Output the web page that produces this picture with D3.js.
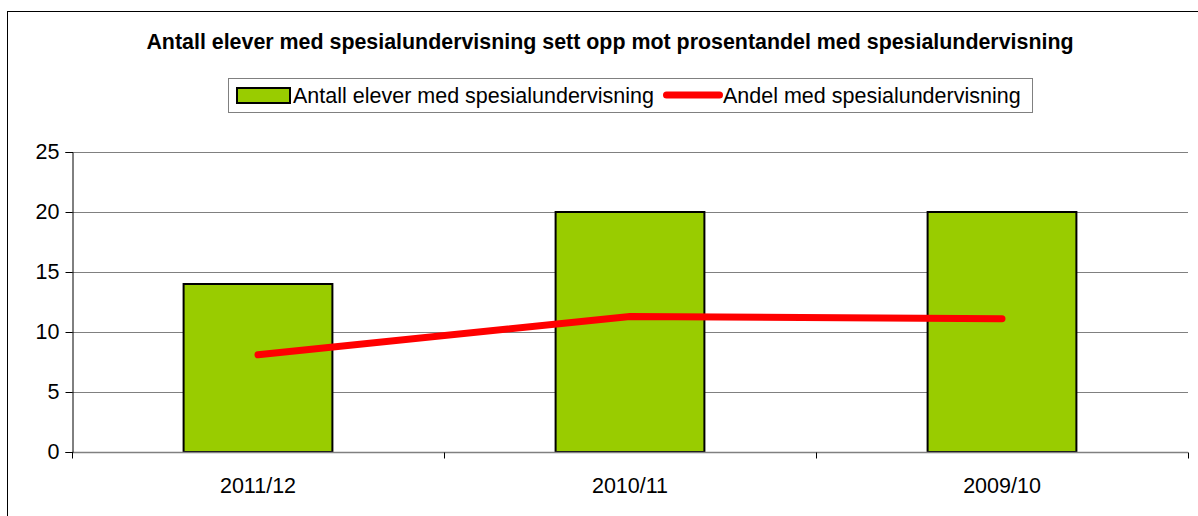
<!DOCTYPE html>
<html>
<head>
<meta charset="utf-8">
<script src="https://cdn.jsdelivr.net/npm/d3@7"></script>
<style>
  html, body { margin: 0; padding: 0; background: #fff; }
  svg { display: block; font-family: "Liberation Sans", Arial, sans-serif; }
</style>
</head>
<body>
<svg id="chart" width="1198" height="516"></svg>
<script>
const categories = ["2011/12", "2010/11", "2009/10"];
const antallElever = [14, 20, 20];
const andelProsent = [8.1, 11.3, 11.1];
const yTicks = [0, 5, 10, 15, 20, 25];
const titleText = "Antall elever med spesialundervisning sett opp mot prosentandel med spesialundervisning";
const legendLabels = ["Antall elever med spesialundervisning", "Andel med spesialundervisning"];

const svg = d3.select("#chart");
const W = 1198, H = 516;
const plot = { left: 72, right: 1188, top: 152, bottom: 452 };

// outer border
svg.append("rect")
  .attr("x", 7.5).attr("y", 11.5)
  .attr("width", W + 10).attr("height", H + 10)
  .attr("fill", "#fff").attr("stroke", "#000").attr("stroke-width", 1);

// title
svg.append("text")
  .attr("x", 610).attr("y", 49)
  .attr("text-anchor", "middle")
  .attr("font-size", "21.4px").attr("font-weight", "bold")
  .attr("fill", "#000")
  .text(titleText);

const x = d3.scaleBand().domain(categories).range([plot.left, plot.right]).paddingInner(0).paddingOuter(0);
const y = d3.scaleLinear().domain([0, 25]).range([plot.bottom, plot.top]);

// gridlines
svg.append("g").selectAll("line").data(yTicks.filter(d => d > 0)).join("line")
  .attr("x1", plot.left).attr("x2", plot.right)
  .attr("y1", d => Math.round(y(d)) + 0.5).attr("y2", d => Math.round(y(d)) + 0.5)
  .attr("stroke", "#808080").attr("stroke-width", 1);

// bars
const barW = x.bandwidth() * 0.4;
svg.append("g").selectAll("rect").data(categories).join("rect")
  .attr("x", (d) => x(d) + (x.bandwidth() - barW) / 2)
  .attr("y", (d, i) => y(antallElever[i]))
  .attr("width", barW)
  .attr("height", (d, i) => y(0) - y(antallElever[i]))
  .attr("fill", "#99CC00")
  .attr("stroke", "#000").attr("stroke-width", 2);

// x axis
const xAxisG = svg.append("g").attr("transform", `translate(0,${Math.round(y(0)) + 0.5})`);
xAxisG.append("line").attr("x1", plot.left).attr("x2", plot.right)
  .attr("stroke", "#808080").attr("stroke-width", 1.5);
const boundaries = categories.map(c => x(c)).concat([plot.right]);
xAxisG.selectAll("line.tick").data(boundaries).join("line").attr("class", "tick")
  .attr("x1", d => Math.round(d) + 0.5).attr("x2", d => Math.round(d) + 0.5)
  .attr("y1", 0).attr("y2", 6)
  .attr("stroke", "#000").attr("stroke-width", 1);
xAxisG.selectAll("text").data(categories).join("text")
  .attr("x", d => x(d) + x.bandwidth() / 2)
  .attr("y", 40)
  .attr("text-anchor", "middle")
  .attr("font-size", "21.5px").attr("fill", "#000")
  .text(d => d);

// y axis
const yAxis = d3.axisLeft(y).tickValues(yTicks).tickSize(7).tickPadding(6);
const yAxisG = svg.append("g").attr("transform", `translate(${plot.left + 0.5},0)`).call(yAxis);
yAxisG.select(".domain").attr("stroke", "#000");
yAxisG.selectAll(".tick line").attr("stroke", "#000");
yAxisG.selectAll(".tick text").attr("font-size", "21.5px").attr("fill", "#000")
  .attr("font-family", "'Liberation Sans', Arial, sans-serif");

// line
const line = d3.line()
  .x((d, i) => x(categories[i]) + x.bandwidth() / 2)
  .y(d => y(d));
svg.append("path").datum(andelProsent)
  .attr("d", line)
  .attr("fill", "none").attr("stroke", "#FF0000").attr("stroke-width", 7)
  .attr("stroke-linecap", "round").attr("stroke-linejoin", "round");

// legend
const lg = svg.append("g");
lg.append("rect").attr("x", 228.5).attr("y", 78.5).attr("width", 804).attr("height", 34)
  .attr("fill", "#fff").attr("stroke", "#808080").attr("stroke-width", 1);
lg.append("rect").attr("x", 237).attr("y", 88).attr("width", 53).attr("height", 15)
  .attr("fill", "#99CC00").attr("stroke", "#000").attr("stroke-width", 2);
lg.append("text").attr("x", 293).attr("y", 103).attr("font-size", "21.5px").attr("fill", "#000")
  .text(legendLabels[0]);
lg.append("line").attr("x1", 666.5).attr("x2", 719.5).attr("y1", 95).attr("y2", 95)
  .attr("stroke", "#FF0000").attr("stroke-width", 7).attr("stroke-linecap", "round");
lg.append("text").attr("x", 723).attr("y", 103).attr("font-size", "21.5px").attr("fill", "#000")
  .text(legendLabels[1]);
</script>
</body>
</html>
